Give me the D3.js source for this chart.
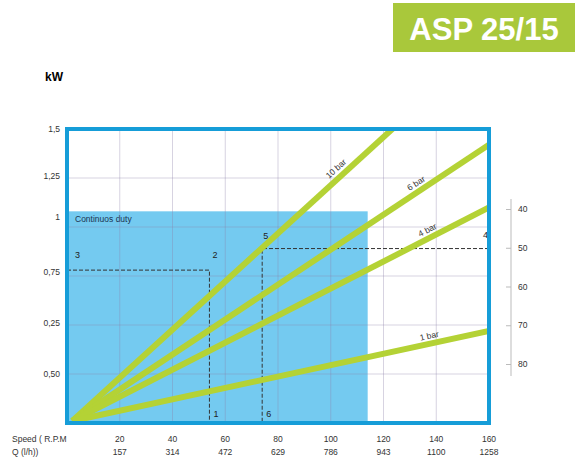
<!DOCTYPE html>
<html>
<head>
<meta charset="utf-8">
<script src="https://cdn.jsdelivr.net/npm/d3@7"></script>
<style>
  body { margin: 0; background: #fff; }
  text { font-family: "Liberation Sans", Arial, sans-serif; }
</style>
</head>
<body>
<div id="chart"></div>
<script>
// data
const speedTicks = [20, 40, 60, 80, 100, 120, 140, 160];
const flowLabels = ["157", "314", "472", "629", "786", "943", "1100", "1258"];
const kwGrid = [0.25, 0.5, 0.75, 1, 1.25];
const kwLabels = ["1,5", "1,25", "1", "0,75", "0,25", "0,50"];
const kwLabelPos = [1.5, 1.26, 1.05, 0.77, 0.51, 0.25];
const curveNames = ["10 bar", "6 bar", "4 bar", "1 bar"];
const curveKwAt160 = [1.95, 1.42, 1.10, 0.47];
const curveLabelAt = [104, 134, 138, 138];
const rightTicks = [40, 50, 60, 70, 80];
const dutySpeed = 114, dutyKw = 1.08;
const pointA = { speed: 54, kw: 0.78 };   // points 3-2-1
const pointB = { speed: 74, kw: 0.89 };   // points 5-4-6

const svg = d3.select("#chart").append("svg")
  .attr("width", 580).attr("height", 474);

const x = d3.scaleLinear().domain([0, 160]).range([67, 489]);
const y = d3.scaleLinear().domain([0, 1.5]).range([423, 129]);
const yR = d3.scaleLinear().domain([40, 80]).range([209, 364]);

// title badge
svg.append("rect").attr("x", 393).attr("y", 3).attr("width", 182).attr("height", 49)
  .attr("fill", "#a9c83b");
svg.append("text").attr("x", 484).attr("y", 40).attr("text-anchor", "middle")
  .attr("fill", "#fff").attr("font-size", 31).attr("font-weight", "bold")
  .attr("font-family", "DejaVu Sans").text("ASP 25/15");

svg.append("text").attr("x", 45).attr("y", 81).attr("font-size", 12)
  .attr("font-weight", "bold").text("kW");

// continuous duty area
svg.append("rect").attr("x", x(0)).attr("y", y(dutyKw))
  .attr("width", x(dutySpeed) - x(0)).attr("height", y(0) - y(dutyKw))
  .attr("fill", "#74caf0");
svg.append("text").attr("x", 75).attr("y", 222).attr("font-size", 8.5)
  .attr("fill", "#1c3550").text("Continuos duty");

// grid
svg.append("g").selectAll("line").data(speedTicks.slice(0, -1)).join("line")
  .attr("x1", d => x(d)).attr("x2", d => x(d)).attr("y1", y(1.5)).attr("y2", y(0))
  .attr("stroke", "#8c82a8").attr("stroke-opacity", 0.35).attr("stroke-width", 1);
svg.append("g").selectAll("line").data(kwGrid).join("line")
  .attr("x1", x(0)).attr("x2", x(160)).attr("y1", d => y(d)).attr("y2", d => y(d))
  .attr("stroke", "#8c82a8").attr("stroke-opacity", 0.35).attr("stroke-width", 1);

// dashed guides
const dash = "4,2";
const guides = svg.append("g").attr("stroke", "#333").attr("stroke-width", 1)
  .attr("stroke-dasharray", dash).attr("fill", "none");
guides.append("path").attr("d",
  `M${x(0)},${y(pointA.kw)}H${x(pointA.speed)}V${y(0)}`);
guides.append("path").attr("d",
  `M${x(160)},${y(pointB.kw)}H${x(pointB.speed)}V${y(0)}`);

const pts = [
  ["3", x(0) + 8, y(pointA.kw) - 12],
  ["2", x(pointA.speed) + 3, y(pointA.kw) - 12],
  ["1", x(pointA.speed) + 4, y(0) - 6],
  ["5", x(pointB.speed) + 1, y(pointB.kw) - 10],
  ["4", x(160) - 6, y(pointB.kw) - 11],
  ["6", x(pointB.speed) + 4, y(0) - 6]
];
svg.append("g").selectAll("text").data(pts).join("text")
  .attr("x", d => d[1]).attr("y", d => d[2]).attr("font-size", 9).attr("fill", "#222")
  .text(d => d[0]);

// power curves
svg.append("clipPath").attr("id", "clip").append("rect")
  .attr("x", x(0)).attr("y", y(1.5)).attr("width", x(160) - x(0)).attr("height", y(0) - y(1.5));
const line = d3.line().x(d => x(d[0])).y(d => y(d[1]));
svg.append("g").attr("clip-path", "url(#clip)").selectAll("path")
  .data(curveKwAt160).join("path")
  .attr("d", d => line([[2, 0.01], [160, d]]))
  .attr("stroke", "#b4d235").attr("stroke-width", 6).attr("fill", "none");

curveNames.forEach((n, i) => {
  const s = curveLabelAt[i];
  const k = curveKwAt160[i] * s / 160;
  const ang = Math.atan2(y(curveKwAt160[i]) - y(0), x(160) - x(0)) * 180 / Math.PI;
  svg.append("text")
    .attr("transform", `translate(${x(s)},${y(k)}) rotate(${ang}) translate(0,-5)`)
    .attr("text-anchor", "middle").attr("font-size", 8.5).attr("fill", "#333").text(n);
});

// frame
svg.append("rect").attr("x", x(0)).attr("y", y(1.5))
  .attr("width", x(160) - x(0)).attr("height", y(0) - y(1.5))
  .attr("fill", "none").attr("stroke", "#169dd8").attr("stroke-width", 4);

// left labels
svg.append("g").selectAll("text").data(kwLabels).join("text")
  .attr("x", 60).attr("y", (d, i) => y(kwLabelPos[i]) + 3).attr("text-anchor", "end")
  .attr("font-size", 8.5).attr("fill", "#333").text(d => d);

// bottom labels
svg.append("text").attr("x", 12).attr("y", 442).attr("font-size", 8.5).attr("fill", "#333")
  .text("Speed ( R.P.M");
svg.append("text").attr("x", 12).attr("y", 455).attr("font-size", 8.5).attr("fill", "#333")
  .text("Q (l/h))");
svg.append("g").selectAll("text").data(speedTicks).join("text")
  .attr("x", d => x(d)).attr("y", 442).attr("text-anchor", "middle")
  .attr("font-size", 8.5).attr("fill", "#333").text(d => d);
svg.append("g").selectAll("text").data(flowLabels).join("text")
  .attr("x", (d, i) => x(speedTicks[i])).attr("y", 455).attr("text-anchor", "middle")
  .attr("font-size", 8.5).attr("fill", "#333").text(d => d);

// right scale
const axR = d3.axisLeft(yR).tickValues(rightTicks).tickSize(5).tickFormat(d => "");
const gR = svg.append("g").attr("transform", "translate(511,0)").call(axR);
gR.select(".domain").attr("d", `M0,${yR(40) - 10}V${yR(80) + 12}`);
gR.selectAll("path,line").attr("stroke", "#bbb");
svg.append("g").selectAll("text").data(rightTicks).join("text")
  .attr("x", 518).attr("y", d => yR(d) + 3).attr("font-size", 8.5).attr("fill", "#333")
  .text(d => d);
</script>
</body>
</html>
